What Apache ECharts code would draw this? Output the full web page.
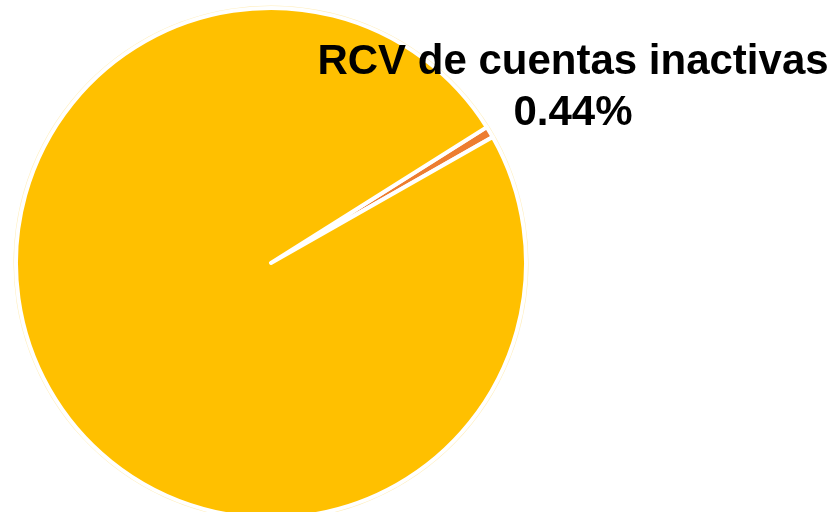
<!DOCTYPE html>
<html>
<head>
<meta charset="utf-8">
<script src="https://cdn.jsdelivr.net/npm/echarts@6/dist/echarts.min.js"></script>
<style>
  html, body { margin: 0; padding: 0; background: #fff; }
  #chart { width: 840px; height: 512px; }
</style>
</head>
<body>
<div id="chart"></div>
<script>
// 数据
let categories = ['RCV de cuentas inactivas', 'RCV de cuentas activas'];
let values = [0.44, 99.56];
let colors = ['#ED7D31', '#FFC000'];

let chart = echarts.init(document.getElementById('chart'));

let pieData = categories.map(function (name, i) {
    return {
        name: name,
        value: values[i],
        itemStyle: { color: colors[i] },
        label: { show: i === 0 }
    };
});

chart.setOption({
    animation: false,
    series: [{
        // 外圈淡黄色细线
        type: 'pie',
        silent: true,
        center: [271, 263],
        radius: [0, 257.5],
        startAngle: 31.6,
        label: { show: false },
        itemStyle: { color: '#FFEDB8' },
        data: [{ name: 'ring', value: 1 }]
    }, {
        type: 'pie',
        center: [271, 263],
        radius: [0, 255],
        startAngle: 32.2,
        minAngle: 2.6,
        clockwise: true,
        itemStyle: {
            borderColor: '#ffffff',
            borderWidth: 4,
            borderJoin: 'round'
        },
        label: {
            show: false,
            formatter: function (p) {
                return p.name + '\n' + p.value.toFixed(2) + '%';
            },
            color: '#000',
            fontFamily: 'Liberation Sans',
            fontWeight: 'bold',
            fontSize: 42,
            lineHeight: 51,
            align: 'center',
            width: 760,
            overflow: 'none'
        },
        labelLine: { show: false },
        labelLayout: {
            x: 573,
            y: 88,
            align: 'center',
            verticalAlign: 'middle'
        },
        data: pieData
    }]
});
</script>
</body>
</html>
